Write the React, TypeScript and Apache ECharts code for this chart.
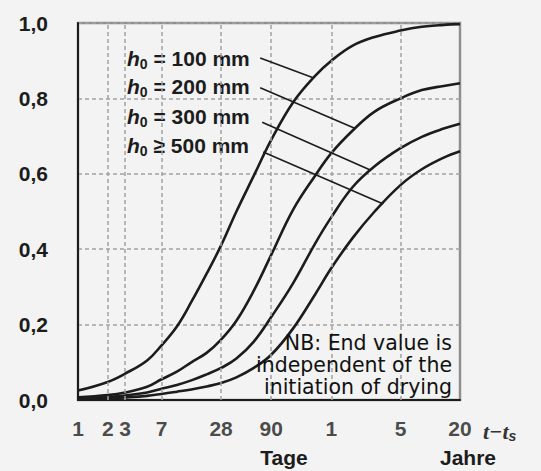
import React, { useEffect, useRef } from "react";
import * as echarts from "echarts";

// time since start of drying, in days (log axis)
const days = [1, 2, 3, 5, 7, 10, 14, 20, 28, 40, 60, 90, 150, 250, 365, 600, 1000, 1825, 3000, 5000, 7300];
// read-off curve values beta(t - ts)
const h100 = [0.025, 0.048, 0.07, 0.105, 0.145, 0.195, 0.26, 0.335, 0.41, 0.5, 0.595, 0.69, 0.79, 0.86, 0.9, 0.94, 0.963, 0.98, 0.99, 0.995, 0.997];
const h200 = [0.007, 0.013, 0.02, 0.035, 0.055, 0.075, 0.1, 0.125, 0.16, 0.21, 0.29, 0.385, 0.505, 0.595, 0.655, 0.715, 0.765, 0.8, 0.822, 0.833, 0.84];
const h300 = [0.004, 0.008, 0.012, 0.02, 0.03, 0.04, 0.052, 0.068, 0.085, 0.11, 0.155, 0.22, 0.31, 0.415, 0.485, 0.565, 0.62, 0.668, 0.698, 0.72, 0.733];
const h500 = [0.003, 0.005, 0.007, 0.011, 0.016, 0.022, 0.028, 0.036, 0.045, 0.06, 0.085, 0.12, 0.19, 0.28, 0.35, 0.43, 0.5, 0.57, 0.612, 0.643, 0.66];

const curveNames = ["100 mm", "200 mm", "300 mm", "500 mm"];
const curveRel = ["=", "=", "=", "≥"];
const curveValues = [h100, h200, h300, h500];

// leader lines (label end -> point on curve), in data coordinates [days, value]
const leaderStart = [[69.6, 0.907], [69.6, 0.828], [72.9, 0.737], [74.6, 0.658]];
const leaderEnd = [[239, 0.855], [637, 0.72], [904, 0.61], [1224, 0.52]];

const yTickLabels = ["0,0", "0,2", "0,4", "0,6", "0,8", "1,0"];
const xTickDays = [1, 2, 3, 7, 28, 90, 365, 1825, 7300];
const xTickLabels = ["1", "2", "3", "7", "28", "90", "1", "5", "20"];
const xGridDays = [2, 3, 7, 28, 90, 365, 1825];

const noteLines = ["NB: End value is", "independent of the", "initiation of drying"];

const FONT = "'Liberation Sans', Arial, Helvetica, sans-serif";
const INK = "#1c1c1c";
const GRIDLINE = { color: "#a3a3a3", width: 1.5, type: [4, 3] as number[] };

export default function App() {
  const ref = useRef<HTMLDivElement>(null);

  useEffect(() => {
    if (!ref.current) return;
    const chart = echarts.init(ref.current, undefined, { renderer: "svg" });

    const lineSeries = curveValues.map((vals, k) => ({
      type: "line",
      name: curveNames[k],
      data: days.map((d, i) => [d, vals[i]]),
      showSymbol: false,
      smooth: 0.4,
      z: 3,
      lineStyle: { color: INK, width: 2.6 },
      markLine: {
        silent: true,
        symbol: ["none", "none"],
        label: { show: false },
        lineStyle: { color: INK, width: 1.6, type: "solid" },
        data: [[{ coord: leaderStart[k] }, { coord: leaderEnd[k] }]],
      },
    }));

    const legendTexts = curveNames.map((n, k) => ({
      type: "text",
      left: 127,
      top: [48, 76, 106, 135][k],
      style: {
        text: `{h|h}{s|0}{t| ${curveRel[k]} ${n}}`,
        fill: INK,
        rich: {
          h: { fontFamily: FONT, fontSize: 21, fontWeight: "bold", fontStyle: "italic", fill: INK, lineHeight: 24, verticalAlign: "middle" },
          s: { fontFamily: FONT, fontSize: 14, fontWeight: "bold", fill: INK, lineHeight: 24, verticalAlign: "bottom" },
          t: { fontFamily: FONT, fontSize: 21, fontWeight: "bold", fill: INK, lineHeight: 24, verticalAlign: "middle" },
        },
      },
    }));

    chart.setOption({
      animation: false,
      backgroundColor: "#f3f3f3",
      grid: {
        left: 78,
        top: 23,
        width: 382,
        height: 377,
        show: true,
        borderColor: "#8f8f8f",
        borderWidth: 2.5,
        backgroundColor: "transparent",
      },
      xAxis: {
        type: "log",
        logBase: 10,
        min: 1,
        max: 7300,
        axisLine: { show: true, onZero: false, lineStyle: { color: INK, width: 2 } },
        axisTick: { show: false },
        axisLabel: { show: false },
        splitLine: { show: false },
      },
      yAxis: {
        type: "value",
        min: 0,
        max: 1,
        interval: 0.2,
        axisLine: { show: true, lineStyle: { color: INK, width: 2 } },
        axisTick: { show: false },
        axisLabel: {
          margin: 30,
          color: INK,
          fontFamily: FONT,
          fontSize: 21,
          fontWeight: "bold",
          formatter: (v: number) => yTickLabels[Math.round(v / 0.2)],
        },
        splitLine: { show: true, lineStyle: GRIDLINE },
      },
      series: [
        {
          type: "scatter",
          name: "ticks",
          data: xTickDays.map((d) => [d, 0]),
          symbolSize: 0,
          clip: false,
          silent: true,
          z: 1,
          label: {
            show: true,
            position: "bottom",
            distance: 18,
            color: INK,
            fontFamily: FONT,
            fontSize: 21,
            fontWeight: "bold",
            formatter: (p: any) => xTickLabels[p.dataIndex],
          },
          markLine: {
            silent: true,
            symbol: ["none", "none"],
            label: { show: false },
            lineStyle: GRIDLINE,
            data: xGridDays.map((d) => ({ xAxis: d })),
          },
        },
        ...lineSeries,
      ],
      graphic: [
        ...legendTexts,
        {
          type: "text",
          x: 284,
          y: 457,
          style: { text: "Tage", fontFamily: FONT, fontSize: 21, fontWeight: "bold", fill: INK, align: "center", verticalAlign: "middle" },
        },
        {
          type: "text",
          x: 468,
          y: 457,
          style: { text: "Jahre", fontFamily: FONT, fontSize: 21, fontWeight: "bold", fill: INK, align: "center", verticalAlign: "middle" },
        },
        {
          type: "text",
          x: 483,
          y: 431,
          style: {
            text: "{t|t−t}{s|s}",
            fill: INK,
            verticalAlign: "middle",
            rich: {
              t: { fontFamily: "'Liberation Serif', 'Times New Roman', serif", fontSize: 22, fontStyle: "italic", fontWeight: "bold", fill: "#333", lineHeight: 24, verticalAlign: "middle" },
              s: { fontFamily: FONT, fontSize: 14, fontStyle: "italic", fontWeight: "bold", fill: "#333", lineHeight: 24, verticalAlign: "bottom" },
            },
          },
        },
        {
          type: "text",
          x: 452,
          y: 332,
          z: 10,
          style: {
            text: noteLines.join("\n"),
            fontFamily: "'DejaVu Sans', 'Liberation Sans', Arial, sans-serif",
            fontSize: 20.5,
            lineHeight: 22,
            fill: "#111",
            align: "right",
            verticalAlign: "top",
          },
        },
      ],
    });

    return () => chart.dispose();
  }, []);

  return (
    <div
      ref={ref}
      style={{ position: "fixed", left: 0, top: 0, width: 541, height: 471 }}
    />
  );
}
